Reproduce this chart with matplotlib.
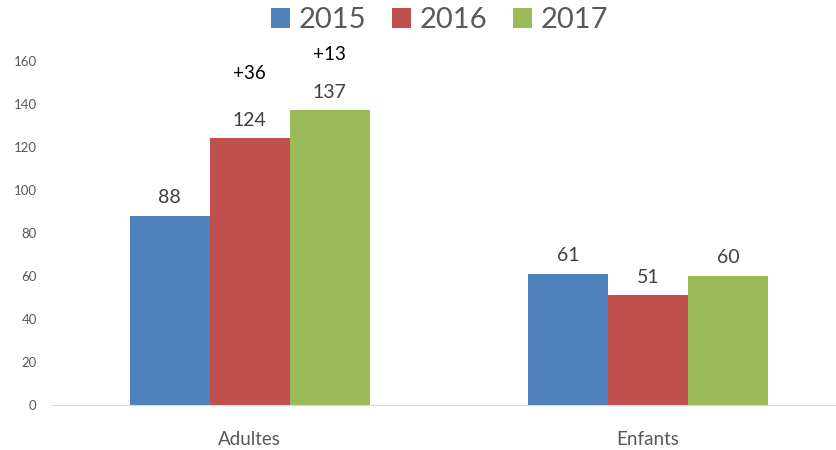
import numpy as np
import matplotlib.pyplot as plt

categories = ['Adultes', 'Enfants']
years = ['2015', '2016', '2017']
values_2015 = [88, 61]
values_2016 = [124, 51]
values_2017 = [137, 60]
colors = ['#4F81BD', '#C0504D', '#9BBB59']

# differences shown above the Adultes bars
diff_labels = ['+36', '+13']
diff_pos = [(1, 154), (2, 163)]

plt.rcParams['font.family'] = ['Lato', 'DejaVu Sans']

fig = plt.figure(figsize=(8.37, 4.5), dpi=100)
ax = fig.add_axes([52 / 837, 0.1, (835 - 52) / 837, 1 - 61 / 450 - 0.1])

x = np.arange(len(categories))
width = 0.201
series = [values_2015, values_2016, values_2017]
for i, vals in enumerate(series):
	pos = x + (i - 1) * width
	bars = ax.bar(pos, vals, width, color=colors[i], label=years[i])
	for xb, v in zip(pos, vals):
		ax.annotate(str(v), (xb, v), xytext=(0, 7), textcoords='offset points',
		            ha='center', va='bottom', fontsize=14, color='#404040')

for lab, (idx, y) in zip(diff_labels, diff_pos):
	ax.text(x[0] + (idx - 1) * width, y, lab, ha='center', va='center',
	        fontsize=13.5, color='black', clip_on=False)

ax.set_xlim(-0.497, 1.47)
ax.set_ylim(0, 160)
ax.set_yticks(range(0, 161, 20))
ax.set_xticks(x)
ax.set_xticklabels(categories, fontsize=13.5, color='#595959')
ax.tick_params(axis='y', labelsize=9.5, colors='#595959', length=0, pad=11)
ax.tick_params(axis='x', length=0, pad=19)
for s in ['top', 'right', 'left']:
	ax.spines[s].set_visible(False)
ax.spines['bottom'].set_color('#D9D9D9')

fig.legend(loc='center', bbox_to_anchor=(0.525, 0.955), ncol=3, frameon=False,
           fontsize=21, handlelength=0.65, handleheight=0.65, handletextpad=0.28,
           columnspacing=0.9, labelcolor='#595959')

plt.savefig('out.png', dpi=100)
